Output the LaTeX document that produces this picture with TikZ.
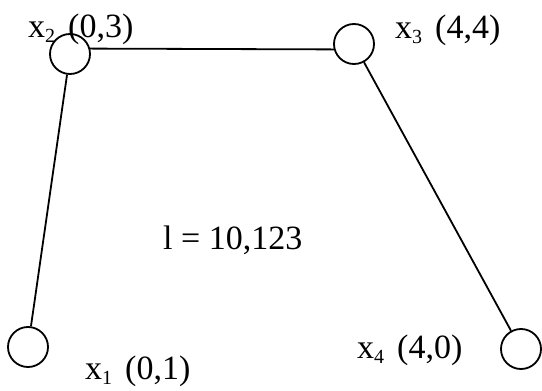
\documentclass[tikz,border=0pt]{standalone}
\usepackage{fontspec}
\setmainfont{Liberation Serif}
\usetikzlibrary{positioning}
\newcommand{\vlabel}[2]{x\raisebox{-5pt}{\fontsize{20}{20}\selectfont #1}\hspace{13pt}#2}

\begin{document}
\begin{tikzpicture}
		[x=1pt, y=-1pt,
		 vertex/.style={draw, circle, minimum size=40pt, inner sep=0pt, line width=1.8pt, fill=white},
		 edge/.style={line width=1.8pt},
		 lbl/.style={anchor=base west, inner sep=0pt, font=\fontsize{34}{40}\selectfont}]
		\useasboundingbox (0,0) rectangle (542,391);
		\node[vertex] (x1) at (28,347) {};
		\node[vertex] (x2) at (70,54) {};
		\node[vertex] (x3) at (354,44) {};
		\node[vertex] (x4) at (521,349) {};

		\draw[edge] (x1) -- (x2);
		\draw[edge] (x2.15) -- (x3.195);
		\draw[edge] (x3) -- (x4);

		\node[lbl] (l2) at (28,37) {\vlabel{2}{(0,3)}};
		\node[lbl] (l3) at (395,38) {\vlabel{3}{(4,4)}};
		\node[lbl] (l1) at (85,379) {\vlabel{1}{(0,1)}};
		\node[lbl] (l4) at (357,358) {\vlabel{4}{(4,0)}};
		\node[lbl] (len) at (163,249) {l = 10,123};
	\end{tikzpicture}
\end{document}
